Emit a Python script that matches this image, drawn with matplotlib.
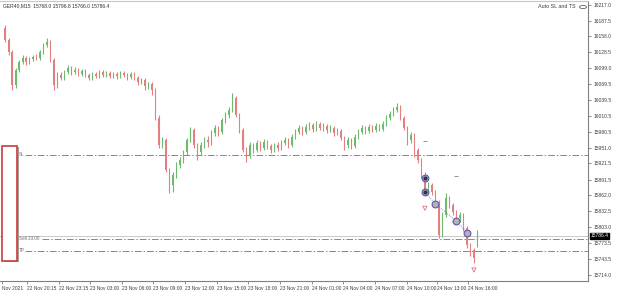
"""MT5-style GER40 M15 candle chart with trade levels -> out.png"""
import numpy as np
import matplotlib
matplotlib.use("Agg")
import matplotlib.pyplot as plt
from matplotlib.patches import Rectangle, Circle
from matplotlib.transforms import blended_transform_factory

plt.rcParams["font.family"] = ["Liberation Sans", "DejaVu Sans"]

SYMBOL = "GER40,M15"
LAST_OHLC = [15768.0, 15796.8, 15766.0, 15786.4]
INDICATOR = "Auto SL and TS"

opens = [16174, 16151, 16129, 16068, 16096, 16111, 16118, 16111, 16116, 16120,
         16118, 16129, 16142, 16148, 16114, 16068, 16086, 16081, 16092, 16099,
         16092, 16096, 16088, 16094, 16086, 16081, 16088, 16084, 16092, 16086,
         16090, 16084, 16088, 16084, 16090, 16086, 16083, 16088, 16081, 16073,
         16077, 16066, 16070, 16058, 16006, 15956, 15965, 15909, 15881, 15900,
         15919, 15928, 15943, 15965, 15984, 15956, 15943, 15956, 15965, 15961,
         15978, 15988, 15980, 16002, 16012, 16021, 16043, 16012, 15984, 15947,
         15937, 15956, 15947, 15960, 15950, 15961, 15954, 15947, 15956, 15950,
         15960, 15965, 15956, 15971, 15980, 15988, 15980, 15989, 15993, 15986,
         15995, 15988, 15991, 15984, 15988, 15978, 15982, 15969, 15956, 15965,
         15954, 15971, 15980, 15988, 15982, 15989, 15984, 15991, 15986, 15995,
         16006, 16014, 16021, 16027, 16006, 15988, 15965, 15975, 15947, 15928,
         15900, 15872, 15881, 15868, 15850, 15788, 15825, 15857, 15844, 15831,
         15820, 15825, 15801, 15770, 15760, 15768.0]
highs = [16179, 16155, 16133, 16099, 16114, 16124, 16122, 16120, 16124, 16125,
         16133, 16146, 16155, 16151, 16118, 16092, 16092, 16096, 16105, 16103,
         16101, 16099, 16097, 16097, 16090, 16092, 16092, 16096, 16096, 16094,
         16094, 16092, 16092, 16094, 16094, 16090, 16092, 16092, 16084, 16081,
         16081, 16073, 16073, 16062, 16012, 15971, 15969, 15913, 15906, 15924,
         15934, 15947, 15969, 15989, 15988, 15960, 15961, 15971, 15973, 15984,
         15993, 15991, 16006, 16017, 16027, 16053, 16047, 16015, 15988, 15952,
         15961, 15960, 15965, 15963, 15967, 15965, 15958, 15960, 15961, 15965,
         15971, 15969, 15976, 15986, 15993, 15991, 15995, 15999, 15997, 16001,
         15999, 15997, 15995, 15993, 15991, 15988, 15986, 15973, 15971, 15969,
         15976, 15986, 15993, 15991, 15995, 15993, 15997, 15995, 16001, 16012,
         16019, 16027, 16034, 16030, 16010, 15991, 15980, 15978, 15950, 15932,
         15906, 15887, 15885, 15872, 15853, 15831, 15866, 15861, 15848, 15835,
         15831, 15829, 15805, 15773, 15764, 15796.8]
lows = [16148, 16124, 16058, 16062, 16092, 16107, 16105, 16107, 16112, 16114,
        16114, 16125, 16138, 16111, 16058, 16062, 16077, 16077, 16088, 16086,
        16088, 16084, 16084, 16083, 16077, 16077, 16081, 16081, 16083, 16083,
        16081, 16081, 16079, 16081, 16083, 16077, 16079, 16077, 16068, 16070,
        16058, 16060, 16049, 16002, 15950, 15950, 15906, 15866, 15868, 15894,
        15913, 15922, 15937, 15961, 15950, 15928, 15937, 15950, 15952, 15956,
        15973, 15973, 15976, 15997, 16006, 16017, 16008, 15978, 15943, 15924,
        15932, 15941, 15943, 15945, 15947, 15948, 15941, 15943, 15945, 15947,
        15956, 15950, 15952, 15967, 15976, 15975, 15976, 15984, 15980, 15982,
        15984, 15982, 15978, 15980, 15973, 15975, 15965, 15947, 15950, 15948,
        15950, 15967, 15976, 15976, 15978, 15980, 15980, 15982, 15982, 15991,
        16002, 16010, 16017, 16002, 15984, 15956, 15960, 15934, 15922, 15894,
        15866, 15866, 15863, 15844, 15783, 15785, 15822, 15839, 15825, 15814,
        15812, 15796, 15764, 15749, 15736, 15766.0]
closes = [16151, 16129, 16068, 16096, 16111, 16118, 16111, 16116, 16120, 16118,
          16129, 16142, 16148, 16114, 16068, 16086, 16081, 16092, 16099, 16092,
          16096, 16088, 16094, 16086, 16081, 16088, 16084, 16092, 16086, 16090,
          16084, 16088, 16084, 16090, 16086, 16083, 16088, 16081, 16073, 16077,
          16066, 16070, 16058, 16006, 15956, 15965, 15909, 15881, 15900, 15919,
          15928, 15943, 15965, 15984, 15956, 15943, 15956, 15965, 15961, 15978,
          15988, 15980, 16002, 16012, 16021, 16043, 16012, 15984, 15947, 15937,
          15956, 15947, 15960, 15950, 15961, 15954, 15947, 15956, 15950, 15960,
          15965, 15956, 15971, 15980, 15988, 15980, 15989, 15993, 15986, 15995,
          15988, 15991, 15984, 15988, 15978, 15982, 15969, 15956, 15965, 15954,
          15971, 15980, 15988, 15982, 15989, 15984, 15991, 15986, 15995, 16006,
          16014, 16021, 16027, 16006, 15988, 15965, 15975, 15947, 15928, 15900,
          15872, 15881, 15868, 15850, 15788, 15825, 15857, 15844, 15831, 15820,
          15825, 15801, 15770, 15760, 15745, 15786.4]

price_ticks = [16217.0, 16187.5, 16158.0, 16128.5, 16099.0, 16069.5, 16039.5,
               16010.5, 15980.5, 15951.0, 15921.5, 15891.5, 15862.0, 15832.5,
               15803.0, 15773.5, 15743.5, 15714.0]

time_labels = ["Nov 2021", "22 Nov 20:15", "22 Nov 23:15", "23 Nov 03:00",
               "23 Nov 06:00", "23 Nov 09:00", "23 Nov 12:00", "23 Nov 15:00",
               "23 Nov 18:00", "23 Nov 21:00", "24 Nov 01:00", "24 Nov 04:00",
               "24 Nov 07:00", "24 Nov 10:00", "24 Nov 13:00", "24 Nov 16:00"]
time_label_bars = [-0.9, 6.3, 15.3, 24.3, 33.4, 42.3, 51.4, 60.6, 69.4, 78.6,
                   87.7, 96.6, 105.7, 114.9, 123.4, 132.3]

sl_price = 15937.5
entry_price = 15781.0
tp_price = 15759.0
bid_price = 15786.4
level_labels = ["SL", "Sell 20.00", "TP"]

# trailing-stop marks drawn by the EA
ring_bars = [120, 120, 123, 129, 132]
ring_prices = [15894, 15868, 15846, 15814, 15792]
arrow_bars = [120, 134]
arrow_prices = [15838, 15723]
dash_bars = [120, 129]
dash_prices = [15963, 15898]

UP = "#6dbb6d"
DOWN = "#e47f7f"
LEVEL = "#7c7ce0"
FS = 3.6

o = np.array(opens, dtype=float)
h = np.array(highs, dtype=float)
l = np.array(lows, dtype=float)
c = np.array(closes, dtype=float)
x = np.arange(len(c))
cols = np.where(c >= o, UP, DOWN)

fig = plt.figure(figsize=(6.25, 2.9), dpi=100)
ax = fig.add_axes([0, 9 / 290, 588 / 625, 280 / 290])
ax.set_xlim(-1.43, 166.6)
ax.set_ylim(15702.5, 16224.1)

ax.vlines(x, l, h, colors=cols, lw=0.8, zorder=3)
body = np.maximum(np.abs(c - o), 1.0)
ax.bar(x, body, bottom=np.minimum(o, c), width=0.5, color=cols, lw=0, zorder=3)

# levels
ax.axhline(bid_price, color="#c9c9c9", lw=0.7, zorder=1)
dash = (0, (7, 2, 1.5, 2))
ax.axhline(sl_price, xmin=25 / 588, color=LEVEL, lw=0.7, ls=dash, zorder=2)
ax.axhline(entry_price, xmin=42 / 588, color=LEVEL, lw=0.7, ls=dash, zorder=2)
ax.axhline(tp_price, xmin=25 / 588, color=LEVEL, lw=0.7, ls=dash, zorder=2)
tr = blended_transform_factory(ax.transAxes, ax.transData)
for lab, p in zip(level_labels, [sl_price, entry_price, tp_price]):
    ax.text(19 / 588, p, lab, transform=tr, fontsize=3.3, color="#707070",
            va="center", ha="left")

# EA marks
ax.plot(ring_bars[1:], ring_prices[1:], ls=(0, (1, 1.5)), color="#7070c0", lw=0.6, zorder=4)
ax.scatter(ring_bars, ring_prices, s=24, facecolor="#b8aeb8", edgecolor="#5a5aa8",
           lw=0.8, zorder=5)
ax.scatter(ring_bars[:2], ring_prices[:2], s=4, color="#303050", zorder=6)
ax.scatter(arrow_bars, arrow_prices, marker="v", s=9, facecolor="none",
           edgecolor="#e07090", lw=0.6, zorder=5)
ax.scatter(dash_bars, dash_prices, marker="_", s=6, color="#808080", lw=0.6, zorder=5)

# axes cosmetics
ax.spines["left"].set_visible(False)
ax.spines["top"].set_color("#c8c8c8")
ax.spines["right"].set_color("#808080")
ax.spines["bottom"].set_color("#808080")
for s in ["top", "right", "bottom"]:
    ax.spines[s].set_linewidth(0.8)

ax.yaxis.tick_right()
ax.set_yticks(price_ticks)
ax.set_yticklabels([f"{v:.1f}" for v in price_ticks])
ax.tick_params(axis="y", length=2, width=0.6, pad=2, labelsize=FS,
               colors="#808080", labelcolor="#404040")
ax.set_xticks(time_label_bars)
ax.set_xticklabels(time_labels)
for t in ax.get_xticklabels():
    t.set_ha("left")
ax.tick_params(axis="x", length=2, width=0.6, pad=1.5, labelsize=3.5,
               colors="#808080", labelcolor="#404040")

ax.text(1.004, bid_price, f"{bid_price:.1f}", transform=tr, fontsize=FS,
        color="white", va="center", ha="left",
        bbox=dict(boxstyle="square,pad=0.15", fc="black", ec="black"))

# red selection rectangle on the left
ax.add_patch(Rectangle((3.5 / 588, 19 / 280), 15 / 588, 115 / 280, transform=ax.transAxes,
                       fc="#a0a0a0", ec="none", zorder=6, clip_on=False))
ax.add_patch(Rectangle((2 / 588, 20.5 / 280), 15 / 588, 115 / 280, transform=ax.transAxes,
                       fc="white", ec="#d04848", lw=1.3, zorder=7, clip_on=False))

# header texts
fig.text(3 / 625, 1 - 6 / 290,
         SYMBOL + "  " + " ".join(f"{v:.1f}" for v in LAST_OHLC),
         fontsize=FS, color="#303030", va="center", ha="left")
fig.text(576 / 625, 1 - 7 / 290, INDICATOR, fontsize=FS + 0.3, color="#404040",
         va="center", ha="right")
fig.add_artist(Circle((583 / 625, 1 - 7 / 290), 0.0055, transform=fig.transFigure,
                      fc="white", ec="#606060", lw=0.6))

fig.savefig("out.png", dpi=100, facecolor="white")
